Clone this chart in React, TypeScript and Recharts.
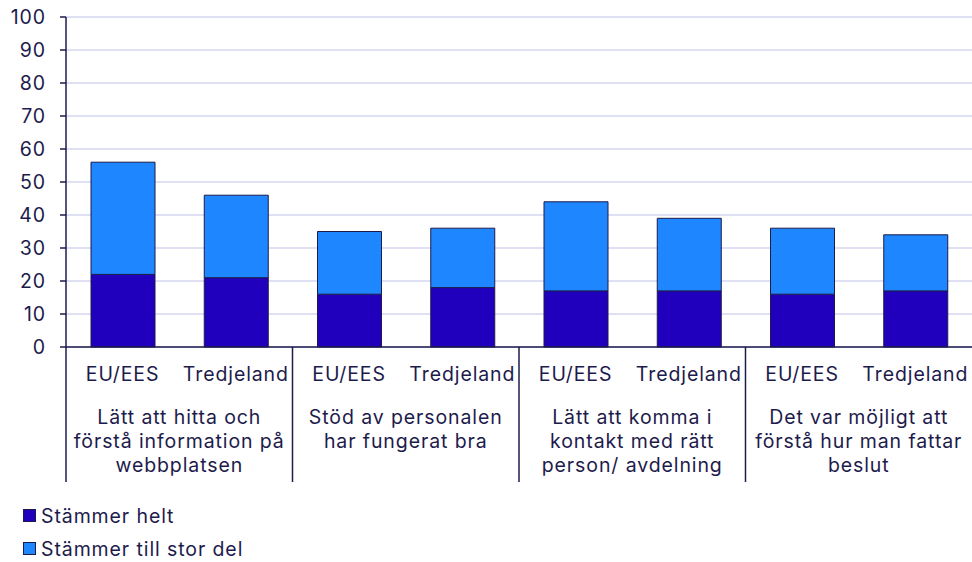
import * as React from "react";
import { Bar, BarChart, CartesianGrid, Legend, XAxis, YAxis } from "recharts";

// Survey data
const subLabels = ["EU/EES", "Tredjeland", "EU/EES", "Tredjeland", "EU/EES", "Tredjeland", "EU/EES", "Tredjeland"];
const groupLabels = [
  ["Lätt att hitta och", "förstå information på", "webbplatsen"],
  ["Stöd av personalen", "har fungerat bra"],
  ["Lätt att komma i", "kontakt med rätt", "person/ avdelning"],
  ["Det var möjligt att", "förstå hur man fattar", "beslut"],
];
const stammerHelt = [22, 21, 16, 18, 17, 17, 16, 17];
const stammerTillStorDel = [34, 25, 19, 18, 27, 22, 20, 17];
const yTicks = [0, 10, 20, 30, 40, 50, 60, 70, 80, 90, 100];

const series = [
  { key: "helt", name: "Stämmer helt", color: "#2100bd" },
  { key: "storDel", name: "Stämmer till stor del", color: "#1e86ff" },
];

const data = subLabels.map((label, i) => ({
  label,
  helt: stammerHelt[i],
  storDel: stammerTillStorDel[i],
}));

const INK = "#1d1b4c";
const FONT = "Inter, 'Noto Sans', sans-serif";
const FS = 19.5;
const LS = 0.9;
const WIDTH = 972;
const PLOT_LEFT = 66;
const PLOT_BOTTOM = 347;
const BAND = (WIDTH - PLOT_LEFT) / subLabels.length;

// Two-level category tick: sub label, group label and separators
const CategoryTick = (props: any) => {
  const { x, payload } = props;
  const i = payload.index;
  const lines = i % 2 === 0 ? groupLabels[i / 2] : null;
  return (
    <g>
      <text x={x} y={381} textAnchor="middle" fill={INK} fontSize={FS} letterSpacing={LS} fontFamily={FONT}>
        {payload.value}
      </text>
      {lines &&
        lines.map((line, j) => (
          <text
            key={j}
            x={x + BAND / 2}
            y={424 + j * 24}
            textAnchor="middle"
            fill={INK}
            fontSize={FS}
            letterSpacing={LS}
            fontFamily={FONT}
          >
            {line}
          </text>
        ))}
      {i % 2 === 0 && (
        <line x1={x - BAND / 2} x2={x - BAND / 2} y1={PLOT_BOTTOM} y2={482} stroke={INK} strokeWidth={1.5} />
      )}
    </g>
  );
};

const LegendContent = () => (
  <div style={{ fontFamily: FONT, fontSize: FS, letterSpacing: LS, color: INK }}>
    {series.map((s) => (
      <div key={s.key} style={{ display: "flex", alignItems: "center", height: 33 }}>
        <span
          style={{
            display: "inline-block",
            width: 11,
            height: 11,
            background: s.color,
            border: `1px solid ${INK}`,
            marginRight: 5,
          }}
        />
        {s.name}
      </div>
    ))}
  </div>
);

export default function App() {
  return (
    <div style={{ position: "absolute", left: 0, top: 0, width: WIDTH, height: 562, overflow: "hidden", background: "#fff" }}>
      <BarChart
        width={WIDTH}
        height={562}
        data={data}
        margin={{ top: 17, right: 0, bottom: 0, left: 0 }}
        barSize={64}
        style={{ fontFamily: FONT }}
      >
        <CartesianGrid vertical={false} stroke="#d6d6f2" strokeWidth={1.5} />
        <XAxis
          dataKey="label"
          interval={0}
          height={562 - PLOT_BOTTOM}
          tickLine={false}
          axisLine={{ stroke: INK, strokeWidth: 1.5 }}
          tick={<CategoryTick />}
        />
        <YAxis
          domain={[0, 100]}
          ticks={yTicks}
          width={PLOT_LEFT}
          tickSize={6}
          tickMargin={14}
          axisLine={{ stroke: INK, strokeWidth: 1.5 }}
          tickLine={{ stroke: INK, strokeWidth: 1.5 }}
          tick={{ fill: INK, fontSize: FS, letterSpacing: LS, fontFamily: FONT }}
        />
        <Legend
          layout="horizontal"
          verticalAlign="middle"
          align="center"
          content={<LegendContent />}
          wrapperStyle={{ top: 499, left: 23, width: 300, height: 66 }}
        />
        {series.map((s) => (
          <Bar
            key={s.key}
            dataKey={s.key}
            name={s.name}
            stackId="a"
            fill={s.color}
            stroke={INK}
            strokeWidth={1}
            isAnimationActive={false}
          />
        ))}
      </BarChart>
    </div>
  );
}
